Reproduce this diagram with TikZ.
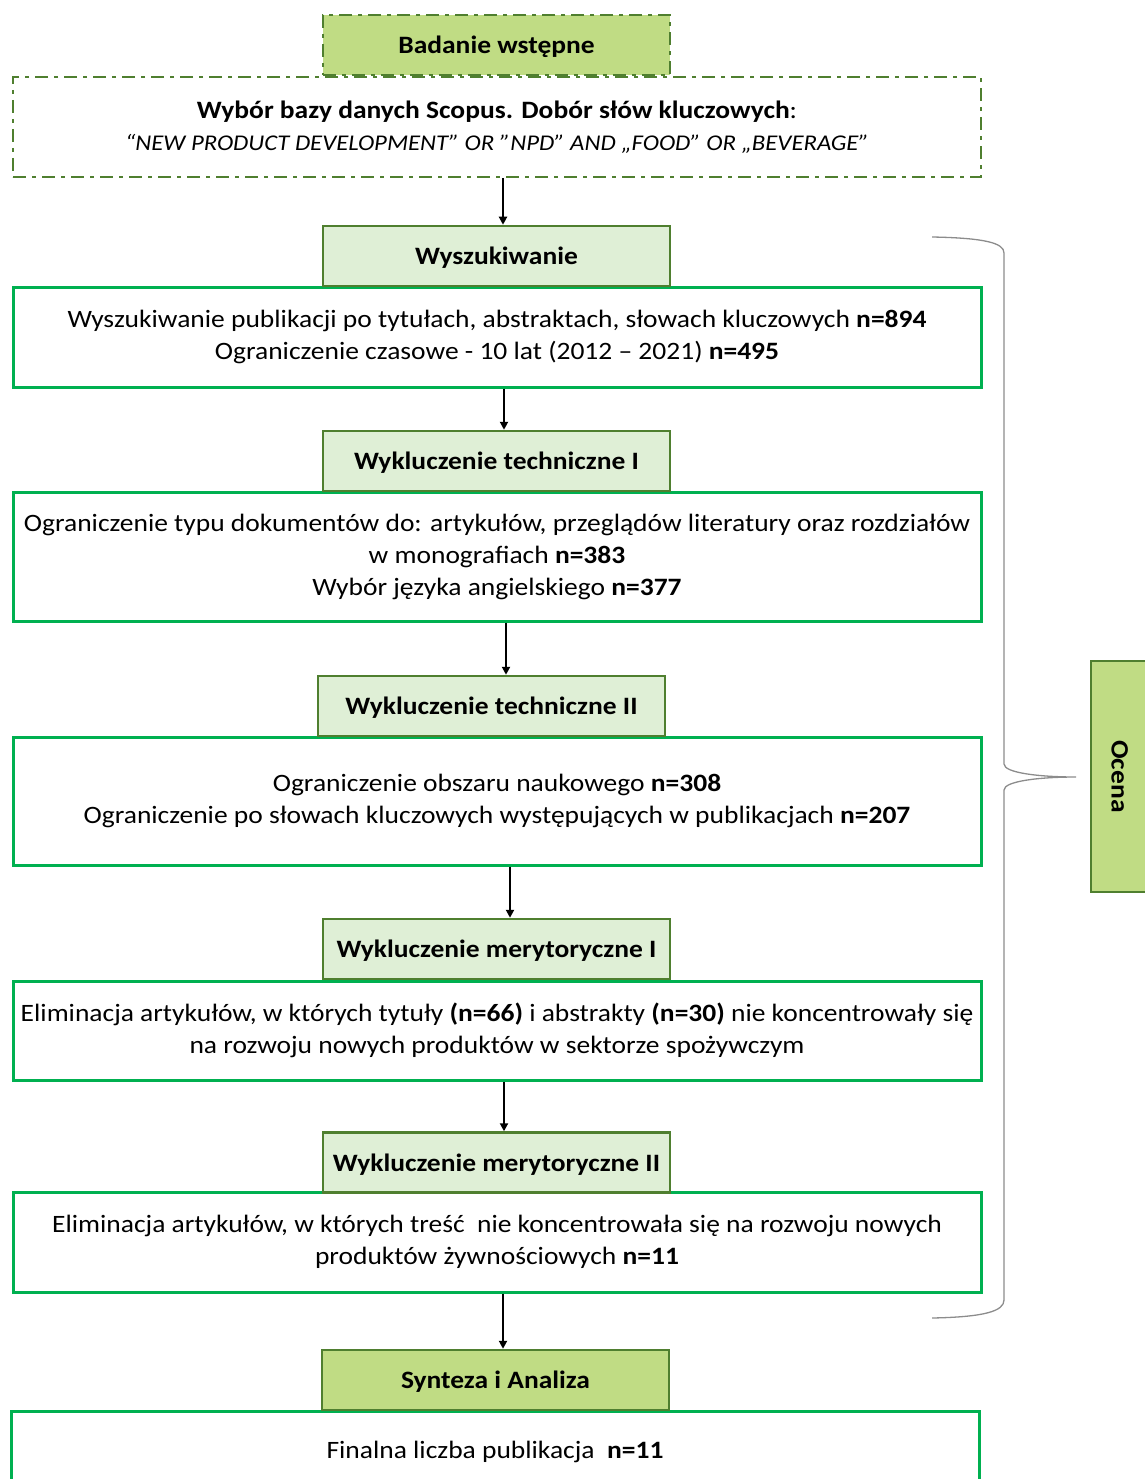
\documentclass[tikz,border=0pt]{standalone}
\usepackage{fontspec}
\setmainfont{Carlito}[FakeStretch=1.1]
\usetikzlibrary{arrows.meta}
\definecolor{dkgreen}{HTML}{4F7F2F}
\definecolor{brgreen}{HTML}{00B050}
\definecolor{hdrfill}{HTML}{DFEFD6}
\definecolor{keyfill}{HTML}{C0DC84}
\definecolor{bracegray}{HTML}{8C8C8C}
\begin{document}
\begin{tikzpicture}[x=1pt,y=-1pt,
  hdr/.style={draw=dkgreen, line width=2.5pt, fill=hdrfill, minimum width=347pt,
    minimum height=60pt, inner sep=0pt, text height=22pt, text depth=5pt,
    font=\fontsize{25}{30}\selectfont\bfseries},
  keyhdr/.style={hdr, fill=keyfill},
  stagebox/.style={draw=brgreen, line width=3pt, fill=white, minimum width=968pt,
    inner sep=0pt, align=center, font=\fontsize{25}{32}\selectfont,
    execute at begin node={\rule{0pt}{23pt}}},
  dashdot/.style={dash pattern=on 13pt off 6pt on 4pt off 6pt},
  arr/.style={-{Triangle[width=8pt,length=8pt]}, line width=2pt, black},
  ]
\useasboundingbox (0,0) rectangle (1144,1479);

% preliminary stage
\node[keyhdr, dashdot] (hdr0) at (496.5,45) {Badanie wstępne};
\node[draw=dkgreen, line width=2.7pt, dashdot, minimum width=968pt, minimum height=100pt,
  inner sep=0pt, align=center, font=\fontsize{25}{32}\selectfont,
  execute at begin node={\rule{0pt}{23pt}}] (box0) at (497,127)
  {\textbf{Wybór bazy danych Scopus. Dobór słów kluczowych}:\\
   {\fontsize{22.5}{32}\selectfont\itshape “NEW PRODUCT DEVELOPMENT” OR "NPD" AND „FOOD” OR „BEVERAGE”}};

% search
\node[stagebox, minimum height=100pt] (box1) at (497,337)
  {Wyszukiwanie publikacji po tytułach, abstraktach, słowach kluczowych \textbf{n=894}\\
   Ograniczenie czasowe - 10 lat (2012 – 2021) \textbf{n=495}};
\node[hdr] (hdr1) at (496.5,256) {Wyszukiwanie};

% technical exclusion I
\node[stagebox, minimum height=129pt] (box2) at (497,556.5)
  {Ograniczenie typu dokumentów do: artykułów, przeglądów literatury oraz rozdziałów\\
   w monografiach \textbf{n=383}\\
   Wybór języka angielskiego \textbf{n=377}};
\node[hdr] (hdr2) at (496.5,461) {Wykluczenie techniczne I};

% technical exclusion II
\node[stagebox, minimum height=128pt] (box3) at (497,801)
  {Ograniczenie obszaru naukowego \textbf{n=308}\\
   Ograniczenie po słowach kluczowych występujących w publikacjach \textbf{n=207}};
\node[hdr] (hdr3) at (491.5,706) {Wykluczenie techniczne II};

% content exclusion I
\node[stagebox, minimum height=99pt] (box4) at (497,1030.5)
  {Eliminacja artykułów, w których tytuły \textbf{(n=66)} i abstrakty \textbf{(n=30)} nie koncentrowały się\\
   na rozwoju nowych produktów w sektorze spożywczym};
\node[hdr] (hdr4) at (496.5,949) {Wykluczenie merytoryczne I};

% content exclusion II
\node[stagebox, minimum height=100pt] (box5) at (497,1242)
  {Eliminacja artykułów, w których treść\ \ nie koncentrowała się na rozwoju nowych\\
   produktów żywnościowych \textbf{n=11}};
\node[hdr] (hdr5) at (496.5,1162.5) {Wykluczenie merytoryczne II};

% synthesis
\node[stagebox, minimum height=76pt] (box6) at (495,1449)
  {Finalna liczba publikacja\ \ \textbf{n=11}};
\node[keyhdr] (hdr6) at (495.5,1380) {Synteza i Analiza};

% evaluation label
\node[keyhdr, minimum width=231pt, minimum height=58pt, rotate=-90] (eval) at (1120,776.5) {Ocena};

% flow arrows
\draw[arr] (box0.south -| 503,0) -- (hdr1.north -| 503,0);
\draw[arr] (box1.south -| 504,0) -- (hdr2.north -| 504,0);
\draw[arr] (box2.south -| 506,0) -- (hdr3.north -| 506,0);
\draw[arr] (box3.south -| 510,0) -- (hdr4.north -| 510,0);
\draw[arr] (box4.south -| 504,0) -- (hdr5.north -| 504,0);
\draw[arr] (box5.south -| 503,0) -- (hdr6.north -| 503,0);

% brace grouping the evaluation stages
\coordinate (braceTop) at (932,237);
\coordinate (braceTip) at (1076,777);
\coordinate (braceBot) at (932,1318);
\draw[bracegray, line width=1.3pt]
  (braceTop) .. controls (985,238) and (1004,243) .. (1004,253)
  -- (1004,764) .. controls (1004,773) and (1040,777) .. (braceTip)
  .. controls (1040,777) and (1004,781) .. (1004,790)
  -- (1004,1300) .. controls (1004,1311) and (985,1317) .. (braceBot);
\end{tikzpicture}
\end{document}
